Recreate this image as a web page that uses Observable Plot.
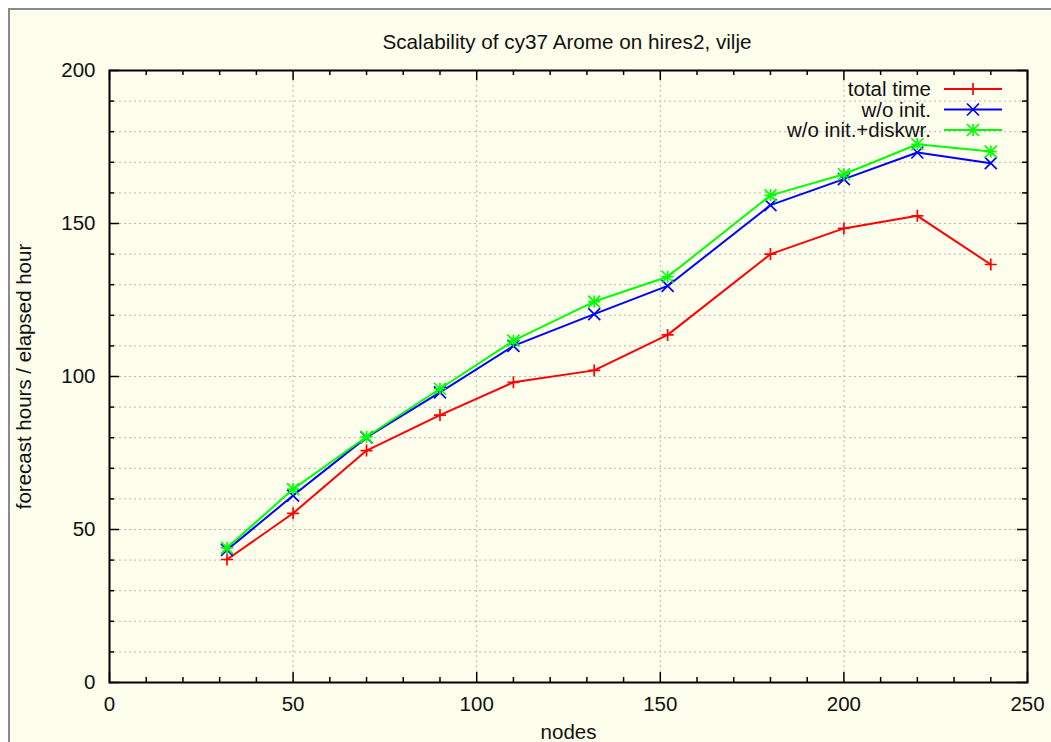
<!DOCTYPE html>
<html>
<head>
<meta charset="utf-8">
<script src="https://cdn.jsdelivr.net/npm/d3@7"></script>
<script src="https://cdn.jsdelivr.net/npm/@observablehq/plot@0.6"></script>
<style>
  html, body { margin: 0; padding: 0; background: #ffffff; width: 1051px; height: 742px; overflow: hidden; }
  body { font-family: "Liberation Sans", Arial, Helvetica, sans-serif; position: relative; }
  #bg { position: absolute; left: 8px; top: 8px; width: 1043px; height: 734px; background: #fefeec;
        border-top: 2px solid #8a8a8a; border-left: 2px solid #8a8a8a; box-sizing: border-box; }
  #title { position: absolute; top: 31px; left: 567px; transform: translateX(-50%); white-space: nowrap;
           font-size: 20.7px; line-height: 22px; color: #111; }
  #chart { position: absolute; left: 0; top: 0; }
  #chart svg { display: block; }
</style>
</head>
<body>
<div id="bg"></div>
<div id="title">Scalability of cy37 Arome on hires2, vilje</div>
<div id="chart"></div>
<script>
// ---- data ----
const nodes = [32, 50, 70, 90, 110, 132, 152, 180, 200, 220, 240];
const totalTime = [40.2, 55.3, 75.8, 87.4, 98.1, 102.0, 113.6, 140.0, 148.4, 152.5, 136.6];
const woInit = [43.3, 61.1, 80.1, 94.8, 110.0, 120.4, 129.6, 156.0, 164.5, 173.2, 169.7];
const woInitDisk = [44.0, 63.2, 80.3, 96.0, 111.7, 124.5, 132.6, 159.2, 166.1, 175.9, 173.5];
const seriesNames = ["total time", "w/o init.", "w/o init.+diskwr."];
const seriesColors = ["#ff0000", "#0000ff", "#00ff00"];
const xMajor = [0, 50, 100, 150, 200, 250];
const xMinor = [10, 20, 30, 40, 60, 70, 80, 90, 110, 120, 130, 140, 160, 170, 180, 190, 210, 220, 230, 240];
const yMajor = [0, 50, 100, 150, 200];
const yMinor = [10, 20, 30, 40, 60, 70, 80, 90, 110, 120, 130, 140, 160, 170, 180, 190];
const yGrid = [10, 20, 30, 40, 50, 60, 70, 80, 90, 100, 110, 120, 130, 140, 150, 160, 170, 180, 190];
const xGrid = [50, 100, 150, 200];
const xLabel = "nodes";
const yLabel = "forecast hours / elapsed hour";

// ---- layout ----
const W = 1051, H = 742;
const mL = 109, mR = 24, mT = 70, mB = 60;
const frameW = W - mL - mR, frameH = H - mT - mB;
const FONT = "'Liberation Sans', Arial, Helvetica, sans-serif";
const FS = 20.5;

const seriesValues = [totalTime, woInit, woInitDisk];
const table = seriesValues.map((vals, i) => nodes.map((n, j) => ({nodes: n, value: vals[j], series: seriesNames[i]})));

// custom gnuplot-like symbols (r = half arm length)
const symPlus = {draw(ctx, size) { const r = Math.sqrt(size / Math.PI); ctx.moveTo(-r, 0); ctx.lineTo(r, 0); ctx.moveTo(0, -r); ctx.lineTo(0, r); }};
const symTimes = {draw(ctx, size) { const r = Math.sqrt(size / Math.PI); ctx.moveTo(-r, -r); ctx.lineTo(r, r); ctx.moveTo(-r, r); ctx.lineTo(r, -r); }};
const seriesSymbols = [[symPlus], [symTimes], [symPlus, symTimes]];

const marks = [
  Plot.gridY(yGrid, {stroke: "#b8b8b8", strokeOpacity: 1, strokeWidth: 1, strokeDasharray: "2,3"}),
  Plot.gridX(xGrid, {stroke: "#b8b8b8", strokeOpacity: 1, strokeWidth: 1, strokeDasharray: "2,3"}),
  // inward ticks (left / right / bottom / top)
  Plot.ruleY(yMajor, {insetRight: frameW - 10, stroke: "#000", strokeWidth: 1.5}),
  Plot.ruleY(yMajor, {insetLeft: frameW - 10, stroke: "#000", strokeWidth: 1.5}),
  Plot.ruleY(yMinor, {insetRight: frameW - 5, stroke: "#000", strokeWidth: 1.5}),
  Plot.ruleY(yMinor, {insetLeft: frameW - 5, stroke: "#000", strokeWidth: 1.5}),
  Plot.ruleX(xMajor, {insetTop: frameH - 10, stroke: "#000", strokeWidth: 1.5}),
  Plot.ruleX(xMajor, {insetBottom: frameH - 10, stroke: "#000", strokeWidth: 1.5}),
  Plot.ruleX(xMinor, {insetTop: frameH - 5, stroke: "#000", strokeWidth: 1.5}),
  Plot.ruleX(xMinor, {insetBottom: frameH - 5, stroke: "#000", strokeWidth: 1.5}),
  Plot.axisY({ticks: yMajor, tickSize: 0, tickPadding: 14, tickFormat: d => String(d), label: null, fontSize: FS}),
  Plot.axisX({ticks: xMajor, tickSize: 0, tickPadding: 14, tickFormat: d => String(d), label: null, fontSize: FS}),
  Plot.text([xLabel], {text: d => d, frameAnchor: "bottom", dy: 50, textAnchor: "middle", lineAnchor: "middle", fontSize: FS, fill: "#111"}),
  Plot.text([yLabel], {text: d => d, frameAnchor: "left", dx: -85, rotate: -90, textAnchor: "middle", lineAnchor: "middle", fontSize: FS, fill: "#111"}),
];
table.forEach((rows, i) => {
  marks.push(Plot.line(rows, {x: "nodes", y: "value", stroke: seriesColors[i], strokeWidth: 2}));
  seriesSymbols[i].forEach(sym => {
    marks.push(Plot.dot(rows, {x: "nodes", y: "value", symbol: sym, r: 6, fill: "none", stroke: seriesColors[i], strokeWidth: 1.7}));
  });
});
marks.push(Plot.frame({stroke: "#000", strokeWidth: 2}));

const svg = Plot.plot({
  width: W, height: H,
  marginLeft: mL, marginRight: mR, marginTop: mT, marginBottom: mB,
  style: {background: "none", fontFamily: FONT, fontSize: FS + "px", color: "#111"},
  x: {domain: [0, 250]},
  y: {domain: [0, 200]},
  marks
});
document.getElementById("chart").appendChild(svg);

// ---- legend (chrome) ----
const lg = d3.select(svg).append("g").attr("class", "legend")
  .attr("font-family", FONT).attr("font-size", FS);
const xRight = mL + frameW;
seriesNames.forEach((name, i) => {
  const yy = 89 + i * 20.5;
  const g = lg.append("g").attr("transform", `translate(0,${yy})`);
  g.append("text").attr("x", xRight - 96).attr("y", 0).attr("dy", "0.35em")
    .attr("text-anchor", "end").attr("fill", "#111").text(name);
  g.append("line").attr("x1", xRight - 83).attr("x2", xRight - 25).attr("y1", 0).attr("y2", 0)
    .attr("stroke", seriesColors[i]).attr("stroke-width", 2);
  seriesSymbols[i].forEach(sym => {
    g.append("path").attr("transform", `translate(${xRight - 54},0)`)
      .attr("d", d3.symbol(sym, Math.PI * 36)())
      .attr("fill", "none").attr("stroke", seriesColors[i]).attr("stroke-width", 1.7);
  });
});
</script>
</body>
</html>
